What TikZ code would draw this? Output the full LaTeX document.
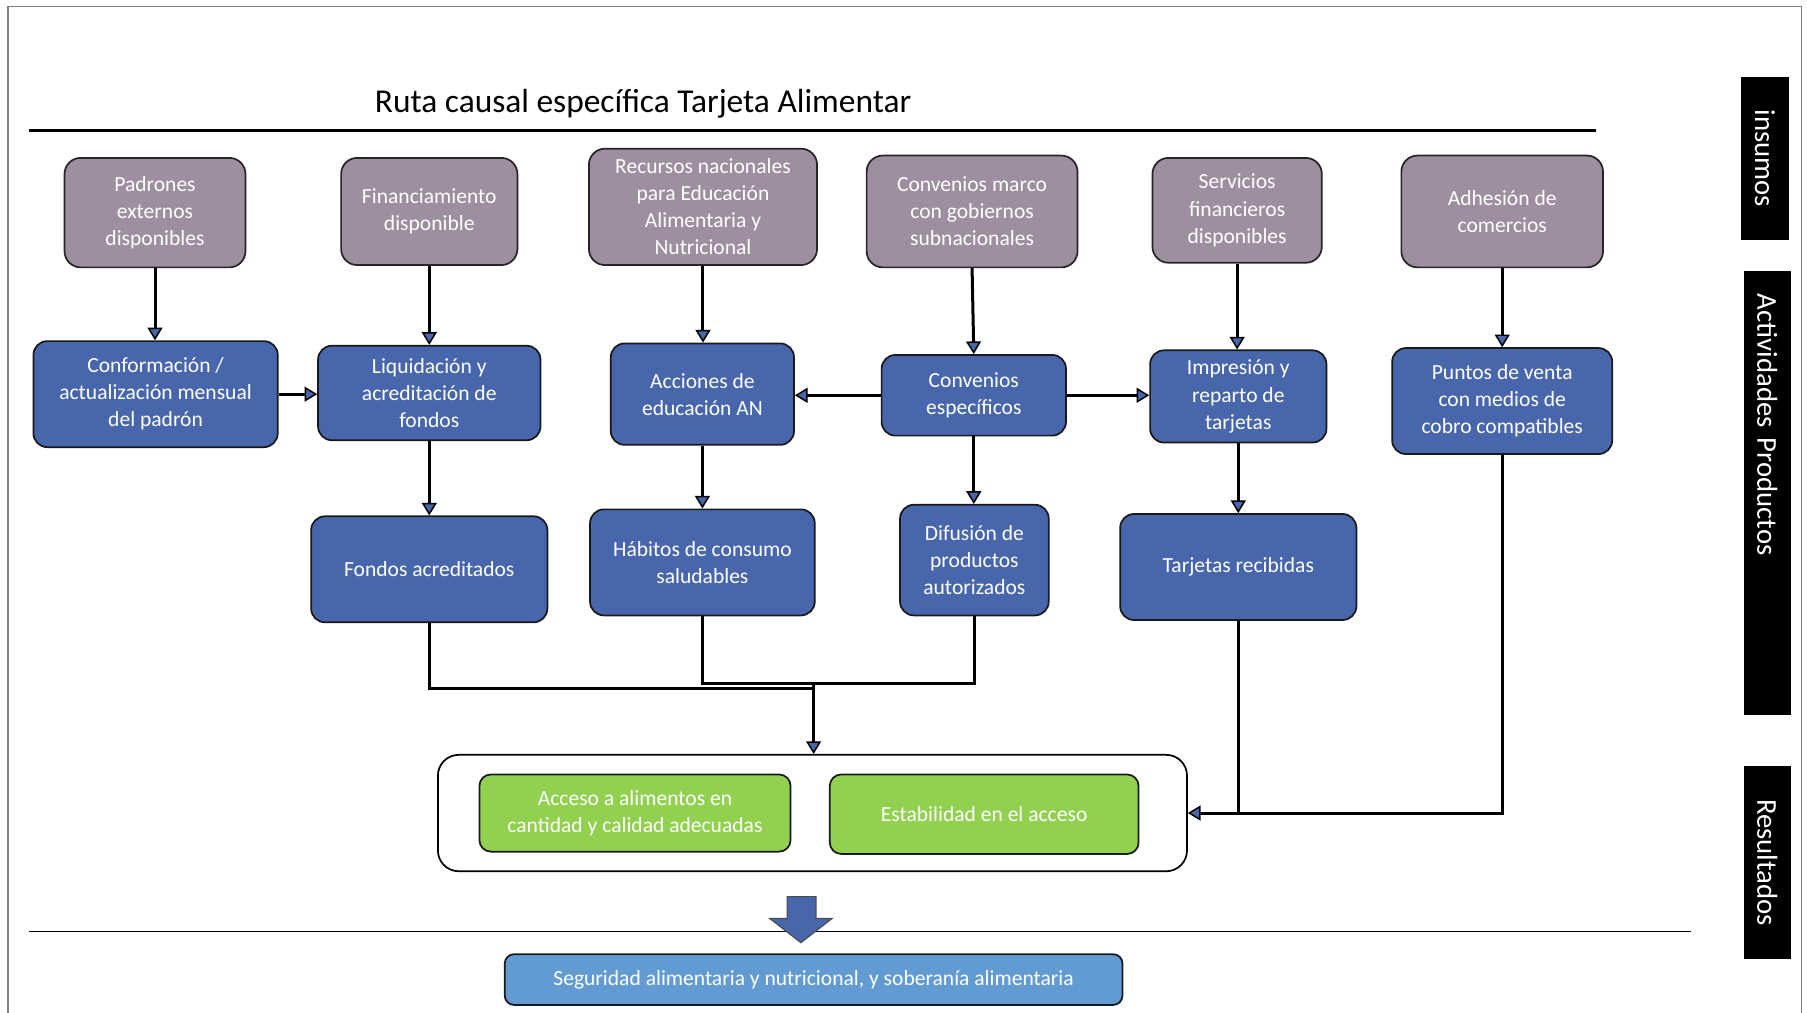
\documentclass[tikz,border=0pt]{standalone}
\usepackage{fontspec}
\setmainfont{Carlito}
\usetikzlibrary{arrows.meta}
\definecolor{inputgray}{RGB}{158,143,160}
\definecolor{boxblue}{RGB}{72,102,172}
\definecolor{resgreen}{RGB}{146,208,80}
\definecolor{goalblue}{RGB}{98,155,210}

\begin{document}
\begin{tikzpicture}[x=1pt,y=-1pt,
    every node/.style={font=\fontsize{18.7}{23.5}\selectfont,align=center,inner sep=2pt},
    inbox/.style={draw=black!85,line width=1.5pt,fill=inputgray,text=white,rounded corners=14pt},
    actbox/.style={draw=black!90,line width=1.5pt,fill=boxblue,text=white,rounded corners=12pt},
    resbox/.style={draw=black!90,line width=1.5pt,fill=resgreen,text=white,rounded corners=10pt},
    sidelabel/.style={fill=black,text=white,rotate=-90,minimum height=41pt,inner sep=0pt,
        font=\fontsize{25}{28}\selectfont},
    conn/.style={draw,line width=2.6pt},
    arr/.style={conn,-{Triangle[length=11pt,width=13pt,fill=boxblue,line width=1.3pt]}}]
    \useasboundingbox (0,0) rectangle (1568,879);
    \draw[color=gray,line width=1pt] (7,879)--(7,6)--(1563,6)--(1563,879);
    \node[at={(558,90)},font=\fontsize{29}{33}\selectfont] (title) {Ruta causal específica Tarjeta Alimentar};
    \draw[line width=2.5pt] (25,113)--(1385,113);
    \draw[line width=1pt] (25,808)--(1467,808);
    % insumos
    \node[inbox,at={(134.5,184.5)},minimum width=157pt,minimum height=95pt] (padrones) {Padrones\\externos\\disponibles};
    \node[inbox,at={(372.5,183.5)},minimum width=153pt,minimum height=93pt] (financ) {Financiamiento\\disponible};
    \node[inbox,at={(610,179.5)},minimum width=198pt,minimum height=101pt] (recursos) {Recursos nacionales\\para Educación\\Alimentaria y\\Nutricional};
    \node[inbox,at={(843.5,183.5)},minimum width=183pt,minimum height=97pt] (convmarco) {Convenios marco\\con gobiernos\\subnacionales};
    \node[inbox,at={(1073.5,182.5)},minimum width=147pt,minimum height=91pt] (servicios) {Servicios\\financieros\\disponibles};
    \node[inbox,at={(1303.5,183.5)},minimum width=175pt,minimum height=97pt] (adhesion) {Adhesión de\\comercios};
    % actividades y productos
    \node[actbox,at={(135,342)},minimum width=212pt,minimum height=92pt] (conform) {Conformación /\\actualización mensual\\del padrón};
    \node[actbox,at={(372.5,341)},minimum width=193pt,minimum height=82pt] (liquid) {Liquidación y\\acreditación de\\fondos};
    \node[actbox,at={(609.5,342)},minimum width=159pt,minimum height=88pt] (acciones) {Acciones de\\educación AN};
    \node[actbox,at={(845,343)},minimum width=160pt,minimum height=70pt] (convesp) {Convenios\\específicos};
    \node[actbox,at={(1074.5,344)},minimum width=153pt,minimum height=80pt] (impresion) {Impresión y\\reparto de\\tarjetas};
    \node[actbox,at={(1303.5,348)},minimum width=191pt,minimum height=92pt] (puntos) {Puntos de venta\\con medios de\\cobro compatibles};
    \node[actbox,at={(372.5,494)},minimum width=205pt,minimum height=92pt] (fondos) {Fondos acreditados};
    \node[actbox,at={(609.5,488)},minimum width=195pt,minimum height=92pt] (habitos) {Hábitos de consumo\\saludables};
    \node[actbox,at={(845.5,486)},minimum width=129pt,minimum height=96pt] (difusion) {Difusión de\\productos\\autorizados};
    \node[actbox,at={(1074.5,492)},minimum width=205pt,minimum height=92pt] (tarjetas) {Tarjetas recibidas};
    % resultados
    \node[draw,line width=1.5pt,fill=white,rounded corners=18pt,at={(705,705.5)},minimum width=650pt,minimum height=101pt] (results) {};
    \node[resbox,at={(551,705.5)},minimum width=270pt,minimum height=67pt] (acceso) {Acceso a alimentos en\\cantidad y calidad adecuadas};
    \node[resbox,at={(854,706.5)},minimum width=268pt,minimum height=69pt] (estab) {Estabilidad en el acceso};
    \node[draw=black!90,line width=1.5pt,fill=goalblue,text=white,rounded corners=8pt,at={(706,850)},minimum width=536pt,minimum height=44pt] (seguridad) {Seguridad alimentaria y nutricional, y soberanía alimentaria};
    % etiquetas laterales
    \node[sidelabel,at={(1531.5,137.5)},minimum width=141pt] (lblins) {insumos};
    \node[sidelabel,at={(1533.5,427.5)},minimum width=385pt,text width=345pt,align=left] (lblact) {Actividades Productos};
    \node[sidelabel,at={(1533.5,748.5)},minimum width=167pt] (lblres) {Resultados};
    % conectores
    \draw[arr] (padrones.south) -- (padrones.south |- conform.north);
    \draw[arr] (financ.south) -- (financ.south |- liquid.north);
    \draw[arr] (recursos.south) -- (recursos.south |- acciones.north);
    \draw[arr] (convmarco.south) -- (convesp.north);
    \draw[arr] (servicios.south) -- (servicios.south |- impresion.north);
    \draw[arr] (adhesion.south) -- (puntos.north);
    \draw[arr] (conform.east) -- (liquid.west |- conform.east);
    \draw[arr] (convesp.west) -- (acciones.east |- convesp.west);
    \draw[arr] (convesp.east) -- (impresion.west |- convesp.east);
    \draw[arr] (liquid.south) -- (fondos.north);
    \draw[arr] (acciones.south) -- (acciones.south |- habitos.north);
    \draw[arr] (convesp.south) -- (convesp.south |- difusion.north);
    \draw[arr] (impresion.south) -- (tarjetas.north);
    \coordinate (join) at (706,593);
    \coordinate (joinlow) at (706,597);
    \draw[conn] (fondos.south) |- (joinlow);
    \draw[conn] (habitos.south) |- (join) -| (difusion.south);
    \draw[arr] (join) -- (join |- results.north);
    \draw[conn] (puntos.south) |- (tarjetas.south |- results.east);
    \draw[arr] (tarjetas.south) |- (results.east);
    \draw[fill=boxblue,draw=black!70,line width=1pt] (683,778) -- (708,778) -- (708,797) -- (722,797)
        -- (695,818) -- (668,797) -- (683,797) -- cycle;
\end{tikzpicture}
\end{document}
